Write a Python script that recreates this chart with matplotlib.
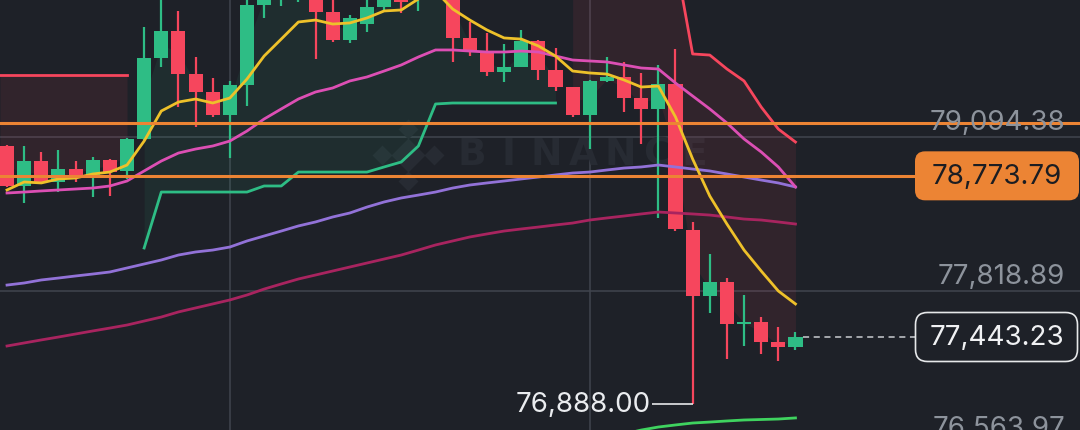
"""BTC/USDT 15m candles with MA ribbons and supertrend, Binance dark theme."""

import matplotlib
matplotlib.use("Agg")  # headless
import matplotlib.pyplot as plt  # noqa: E402
import matplotlib.transforms as mtransforms  # noqa: E402
import numpy as np  # noqa: E402
from matplotlib.patches import FancyBboxPatch  # noqa: E402

BG = "#1e2128"
GREEN = "#2ebd85"
RED = "#f6465d"
ORANGE = "#ec8434"
GRID = "#41454e"

# candles, oldest first
opens = [79020, 78690, 78896, 78723, 78830, 78772, 78905, 78813, 79078, 79747,
         79969, 79614, 79466, 79276, 79524, 80184, 80250, 80250, 80358, 80126,
         79895, 80027, 80168, 80283, 80225, 80300, 80415, 79912, 79796, 79631,
         79672, 79887, 79648, 79507, 79276, 79557, 79590, 79416, 79326, 79532,
         78327, 77782, 77897, 77550, 77567, 77402, 77361]
highs = [79028, 79020, 78971, 78987, 78896, 78929, 78913, 79086, 80002, 80275,
         80135, 79755, 79582, 79557, 80258, 80399, 80415, 80415, 80415, 80258,
         80101, 80234, 80316, 80333, 80349, 80481, 80481, 80044, 79953, 79862,
         79978, 79895, 79829, 79507, 79565, 79755, 79714, 79623, 79689, 79821,
         78393, 78129, 77930, 77790, 77608, 77526, 77484]
lows = [78682, 78550, 78706, 78640, 78723, 78599, 78607, 78748, 79070, 79672,
        79342, 79177, 79260, 78921, 79350, 80077, 80176, 80209, 79738, 79879,
        79870, 79961, 80135, 80118, 80135, 80258, 79714, 79763, 79598, 79548,
        79672, 79565, 79474, 79260, 78995, 79548, 79301, 79037, 78426, 78318,
        76888, 77641, 77261, 77369, 77303, 77245, 77336]
closes = [78690, 78896, 78723, 78830, 78764, 78905, 78805, 79078, 79747, 79969,
          79614, 79466, 79276, 79524, 80184, 80300, 80358, 80349, 80126, 79895,
          80077, 80168, 80267, 80209, 80300, 80415, 79912, 79804, 79631, 79672,
          79887, 79648, 79507, 79276, 79557, 79590, 79416, 79326, 79532, 78335,
          77782, 77897, 77550, 77567, 77402, 77361, 77443.23]

ma7 = [78657, 78723, 78715, 78748, 78756, 78789, 78805, 78863, 79061, 79309,
       79383, 79408, 79375, 79416, 79573, 79763, 79903, 80044, 80060, 80027,
       80036, 80077, 80135, 80143, 80234, 80300, 80151, 80060, 79978, 79912,
       79903, 79846, 79763, 79639, 79623, 79614, 79565, 79507, 79515, 79260,
       78913, 78607, 78376, 78161, 77988, 77823, 77716]
ma25 = [78632, 78640, 78649, 78657, 78665, 78673, 78690, 78731, 78814, 78896,
        78962, 78995, 79020, 79061, 79144, 79243, 79326, 79408, 79466, 79499,
        79557, 79590, 79639, 79689, 79755, 79813, 79813, 79804, 79796, 79796,
        79804, 79796, 79763, 79730, 79722, 79714, 79689, 79664, 79656, 79540,
        79433, 79326, 79210, 79078, 78971, 78847, 78682]
ma99 = [77872, 77889, 77914, 77930, 77947, 77963, 77980, 78013, 78046, 78079,
        78120, 78145, 78161, 78186, 78236, 78277, 78318, 78360, 78393, 78434,
        78467, 78516, 78558, 78591, 78615, 78640, 78673, 78698, 78715, 78731,
        78748, 78764, 78781, 78797, 78805, 78822, 78838, 78847, 78863, 78847,
        78830, 78814, 78789, 78764, 78739, 78715, 78682]
ma200 = [77369, 77394, 77419, 77443, 77468, 77493, 77517, 77542, 77575, 77608,
         77650, 77683, 77716, 77749, 77790, 77839, 77881, 77922, 77955, 77988,
         78021, 78054, 78087, 78120, 78161, 78203, 78236, 78269, 78294, 78318,
         78335, 78351, 78368, 78384, 78409, 78426, 78442, 78459, 78475, 78467,
         78459, 78450, 78434, 78417, 78409, 78393, 78376]

# supertrend: down (red) for candles 0-7, up (green) 8-32, down again 33-46
st_dn_left = [79606, 79606, 79606, 79606, 79606, 79606, 79606, 79606]
st_up = [78178, 78640, 78640, 78640, 78640, 78640, 78640, 78690, 78690, 78805,
         78805, 78805, 78805, 78805, 78847, 78888, 79020, 79367, 79375, 79375,
         79375, 79375, 79375, 79375, 79375]
st_dn_right = [80564, 80564, 80564, 80564, 80564, 80564, 80564, 79780, 79771,
               79656, 79557, 79342, 79160, 79053]
# lower band, candles 34-46
low_band = [76585, 76609, 76642, 76675, 76700, 76717, 76733, 76741, 76750,
            76758, 76762, 76766, 76775]

order_line = 79207.0
mark_price = 78773.79
last_price = 77443.23
session_low = 76888.00
grid_prices = [76563.97, 77818.89, 79094.38]
grid_candles = [13, 34]

Y_MIN, Y_MAX = 76675.4, 80233.7
X_MIN, X_MAX = -0.41, 62.6
W_IN, H_IN = 10.8, 4.31


def price_to_inch(p: float) -> float:
    return (p - Y_MIN) / (Y_MAX - Y_MIN) * H_IN


def main() -> None:
    fig = plt.figure(figsize=(W_IN, H_IN), dpi=100, facecolor=BG)
    ax = fig.add_axes([0, 0, 1, 1])
    ax.set_facecolor(BG)
    ax.set_xlim(X_MIN, X_MAX)
    ax.set_ylim(Y_MIN, Y_MAX)
    ax.axis("off")

    o = np.array(opens, float)
    h = np.array(highs, float)
    lo = np.array(lows, float)
    c = np.array(closes, float)
    x = np.arange(len(o))
    mid = (o + c) / 2

    # grid
    for gp in grid_prices:
        ax.axhline(gp, color=GRID, lw=1.1, zorder=0.5)
    for gc in grid_candles:
        ax.axvline(gc, color=GRID, lw=1.1, zorder=0.5)

    # watermark
    wm = "#272b33"
    for k, ch in enumerate("BINANCE"):
        ax.text((472 + k * 37) / 1080, 1 - 155 / 431, ch, transform=ax.transAxes,
                ha="center", va="center", fontsize=27, fontweight="bold",
                color=wm, family="DejaVu Sans", zorder=0.6)
    cx, cy = 408 / 1080, 1 - 156 / 431
    for dx, dy, s in [(0, 0, 17), (-26, 0, 10), (26, 0, 10), (0, -26, 10), (0, 26, 10)]:
        ax.plot(cx + dx / 1080, cy + dy / 431, marker="D", ms=s, color=wm,
                mec="none", transform=ax.transAxes, zorder=0.6)

    # supertrend fills + lines (left segment runs off the left edge)
    xl = np.concatenate([[X_MIN], x[:8]])
    yl = np.concatenate([[st_dn_left[0]], st_dn_left])
    ml = np.concatenate([[mid[0]], mid[:8]])
    ax.fill_between(xl, yl, ml, color=RED, alpha=0.09, lw=0, zorder=1)
    ax.plot(xl, yl, color=RED, lw=2, zorder=4)
    xu = x[8:33]
    ax.fill_between(xu, st_up, mid[8:33], color=GREEN, alpha=0.08, lw=0, zorder=1)
    ax.plot(xu, st_up, color=GREEN, lw=2, zorder=4)
    xr = x[33:]
    ax.fill_between(xr, st_dn_right, mid[33:], color=RED, alpha=0.09, lw=0, zorder=1)
    ax.plot(xr, st_dn_right, color=RED, lw=2, zorder=4)

    # candles
    up = c >= o
    colors = np.where(up, GREEN, RED)
    ax.vlines(x, lo, h, colors=colors, lw=1.6, zorder=2)
    body_lo = np.minimum(o, c)
    body_h = np.maximum(np.abs(c - o), 16)
    ax.bar(x, body_h, bottom=body_lo, width=0.82, color=colors, lw=0, zorder=3)

    # moving averages
    ax.plot(x, ma200, color="#a8245f", lw=2, zorder=4)
    ax.plot(x, ma99, color="#9272d8", lw=2, zorder=4)
    ax.plot(x, ma25, color="#dc4fb4", lw=2, zorder=4)
    ax.plot(x, ma7, color="#eec12a", lw=2, zorder=4)
    ax.plot(x[34:], low_band, color="#3fd35f", lw=2, zorder=4)

    # order / mark lines
    box_x0 = 915 / 1080
    ax.axhline(order_line, color=ORANGE, lw=2.2, zorder=5)
    ax.axhline(mark_price, xmax=box_x0, color=ORANGE, lw=2.2, zorder=5)

    # last price dashed line
    ax.hlines(last_price, x[-1] + 0.45, (915 - 7) / 17.14, colors="#c9ccd1",
              lw=1.1, linestyles=(0, (4, 3)), zorder=5)

    # session low marker
    ax.hlines(session_low, 37.65, x[40], colors="#e6e8ea", lw=1.2, zorder=5)
    ax.text(37.55, session_low, f"{session_low:,.2f}", ha="right", va="center",
            fontsize=20, color="#eaecef", family="Inter", zorder=6)

    # right price scale
    blend = mtransforms.blended_transform_factory(ax.transAxes, ax.transData)
    off = 15 * (Y_MAX - Y_MIN) / 431
    for gp in grid_prices:
        ax.text(1065 / 1080, gp + off, f"{gp:,.2f}", transform=blend,
                ha="right", va="center", fontsize=20, color="#8d939c",
                family="Inter", zorder=6)

    inch = fig.dpi_scale_trans
    box = FancyBboxPatch((9.15, price_to_inch(mark_price) - 0.245), 1.64, 0.49,
                         boxstyle="round,pad=0,rounding_size=0.1",
                         transform=inch, fc=ORANGE, ec="none", zorder=6)
    fig.patches.append(box)
    fig.text(9.97 / W_IN, price_to_inch(mark_price) / H_IN, f"{mark_price:,.2f}",
             ha="center", va="center", fontsize=20, color="#1b1d22",
             family="Inter", zorder=7)

    box2 = FancyBboxPatch((9.155, price_to_inch(last_price) - 0.245), 1.62, 0.49,
                          boxstyle="round,pad=0,rounding_size=0.12",
                          transform=inch, fc=BG, ec="#e6e8ea", lw=1.2, zorder=6)
    fig.patches.append(box2)
    fig.text(9.97 / W_IN, price_to_inch(last_price) / H_IN, f"{last_price:,.2f}",
             ha="center", va="center", fontsize=20, color="#f0f1f3",
             family="Inter", zorder=7)

    fig.savefig("out.png", dpi=100, facecolor=BG)
    plt.close(fig)


if __name__ == "__main__":
    main()
